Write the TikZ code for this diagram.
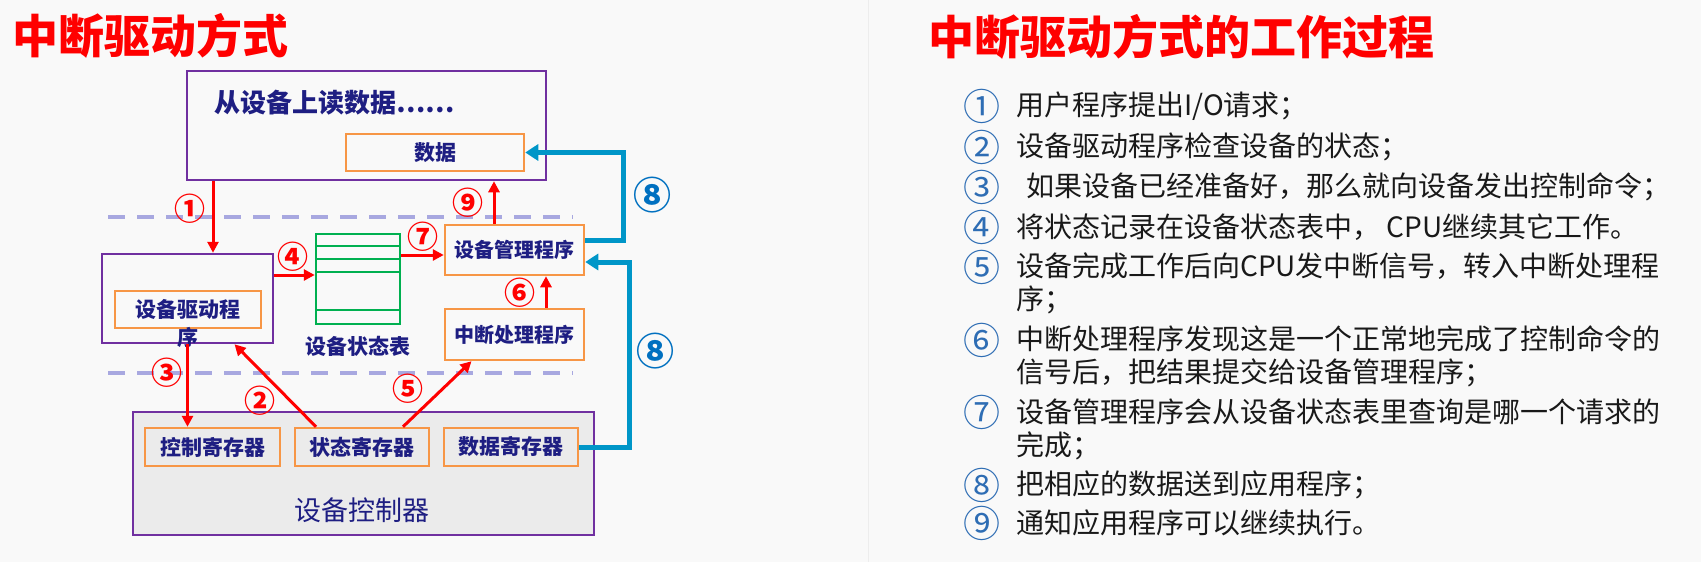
\documentclass[tikz,border=0pt]{standalone}
\usepackage{fontspec}
\setmainfont{Noto Sans CJK SC}
\usepackage{tikz}
\usetikzlibrary{positioning}
\usetikzlibrary{arrows.meta, calc}
\definecolor{boxpurple}{RGB}{112,48,160}
\definecolor{boxorange}{RGB}{247,150,70}
\definecolor{tablegreen}{RGB}{0,176,80}
\definecolor{navy}{RGB}{30,30,130}
\definecolor{flowred}{RGB}{255,0,0}
\definecolor{flowblue}{RGB}{0,150,200}
\definecolor{labelblue}{RGB}{0,112,192}
\definecolor{dashblue}{RGB}{168,168,224}
\definecolor{numblue}{RGB}{46,109,180}
\definecolor{pagebg}{RGB}{249,249,249}
\definecolor{ctlgray}{RGB}{235,235,235}
\tikzstyle{redarrow} = [line width=3pt, draw=flowred, -{Triangle[length=11pt,width=11pt]}]
\tikzstyle{bluearrow} = [line width=5pt, draw=flowblue, -{Triangle[length=13pt,width=16pt]}]

\begin{document}
\begin{tikzpicture}[
    x = 1pt, y = -1pt,
    every node/.style = {inner sep = 0pt},
    outerbox/.style = {draw = boxpurple, line width = 2.5pt},
    innerbox/.style = {draw = boxorange, line width = 2.5pt, text = navy, font = \fontsize{21}{24}\selectfont\bfseries},
    boxtext/.style = {text = navy, font = \fontsize{21}{24}\selectfont\bfseries},
    redno/.style = {text = flowred, font = \fontsize{31}{34}\selectfont\bfseries},
    blueno/.style = {text = labelblue, font = \fontsize{38}{40}\selectfont\bfseries},
    listno/.style = {text = numblue, font = \fontsize{37}{40}\selectfont},
    listtext/.style = {anchor = west, align = left, text = black!90, font = \fontsize{28}{33}\selectfont},
    headline/.style = {anchor = west, text = flowred, font = \fontsize{46}{50}\selectfont\bfseries}
  ]
  \fill[pagebg] (0,0) rectangle (1701,562);
  \useasboundingbox (0,0) rectangle (1701,562);
  \draw[black!7, line width = 1pt] (868,0) -- (868,562);

  % Left panel
  \node[headline] (Title) at (12,36) {中断驱动方式};
  \draw[dashblue, line width = 4pt, dash pattern = on 17pt off 12pt] (108,217) -- (573,217);
  \draw[dashblue, line width = 4pt, dash pattern = on 17pt off 12pt] (108,373) -- (573,373);

  \node[outerbox, minimum width = 359pt, minimum height = 109pt] (App) at (366.5,125.5) {};
  \node[anchor = west, text = navy, font = \fontsize{26}{28}\selectfont\bfseries] (AppText) at (214,103) {从设备上读数据……};
  \node[innerbox, minimum width = 178pt, minimum height = 37pt] (Data) at (435,152.5) {数据};

  \node[innerbox, minimum width = 139pt, minimum height = 50pt, font = \fontsize{20}{24}\selectfont\bfseries] (DevMgr) at (514.5,250) {设备管理程序};
  \node[innerbox, minimum width = 139pt, minimum height = 51pt, font = \fontsize{20}{24}\selectfont\bfseries] (IntHandler) at (514.5,334.5) {中断处理程序};

  \node[draw = tablegreen, line width = 2.5pt, minimum width = 84pt, minimum height = 90pt] (StatTable) at (358,279) {};
  \draw[tablegreen, line width = 2.5pt] ([yshift=-13pt]StatTable.north west) -- ([yshift=-13pt]StatTable.north east);
  \draw[tablegreen, line width = 2.5pt] ([yshift=-26pt]StatTable.north west) -- ([yshift=-26pt]StatTable.north east);
  \draw[tablegreen, line width = 2.5pt] ([yshift=-39pt]StatTable.north west) -- ([yshift=-39pt]StatTable.north east);
  \draw[tablegreen, line width = 2.5pt] ([yshift=-77pt]StatTable.north west) -- ([yshift=-77pt]StatTable.north east);
  \node[boxtext, below = 11pt of StatTable] (StatName) {设备状态表};

  \node[outerbox, minimum width = 171pt, minimum height = 89pt] (Driver) at (187.5,298.5) {};
  \node[innerbox, minimum width = 146pt, minimum height = 37pt] (DriverName) at (188,309.5) {设备驱动程};
  \node[boxtext] (DriverTail) at (188,337) {序};

  \node[outerbox, fill = ctlgray, minimum width = 461pt, minimum height = 123pt] (Ctrl) at (363.5,473.5) {};
  \node[text = navy, font = \fontsize{27}{30}\selectfont] (CtrlName) at (362,510) {设备控制器};
  \node[innerbox, minimum width = 135pt, minimum height = 38pt] (CtrlReg) at (212.5,447) {控制寄存器};
  \node[innerbox, minimum width = 134pt, minimum height = 38pt] (StatReg) at (362,447) {状态寄存器};
  \node[innerbox, minimum width = 134pt, minimum height = 38pt] (DataReg) at (511,447) {数据寄存器};

  % Arrows
  \coordinate (P1) at ([xshift=25.5pt]Driver.north);
  \draw[redarrow] (P1 |- App.south) -- (P1);
  \draw[redarrow] ([xshift=-46pt]StatReg.north) -- ([xshift=47pt]Driver.south);
  \draw[redarrow] (Driver.south) -- (Driver.south |- CtrlReg.north);
  \draw[redarrow] ([yshift=4pt]StatTable.west -| Driver.east) -- ([yshift=4pt]StatTable.west);
  \draw[redarrow] ([xshift=41pt]StatReg.north) -- ([xshift=-43pt]IntHandler.south);
  \coordinate (P6) at ([xshift=31.5pt]IntHandler.north);
  \draw[redarrow] (P6) -- (P6 |- DevMgr.south);
  \draw[redarrow] ([yshift=-5pt]DevMgr.west -| StatTable.east) -- ([yshift=-5pt]DevMgr.west);
  \coordinate (P9) at ([xshift=-20.5pt]DevMgr.north);
  \draw[redarrow] (P9) -- (P9 |- App.south);
  \draw[bluearrow] ([yshift=10pt]DevMgr.east) -- ++(38pt,0) |- (Data.east);
  \draw[bluearrow] (DataReg.east) -- ++(50pt,0) |- ([yshift=-12pt]DevMgr.east);

  % Labels
  \node[redno] (L1) at (190,209) {①};
  \node[redno] (L2) at (260,401) {②};
  \node[redno] (L3) at (167,373) {③};
  \node[redno] (L4) at (293,257) {④};
  \node[redno] (L5) at (408,389) {⑤};
  \node[redno] (L6) at (520,293) {⑥};
  \node[redno] (L7) at (423,237) {⑦};
  \node[blueno] (L8a) at (652,195) {⑧};
  \node[blueno] (L8b) at (655,351) {⑧};
  \node[redno] (L9) at (468,203) {⑨};

  % Right panel
  \node[headline] (Title2) at (928,37) {中断驱动方式的工作过程};
  \node[listno] (N1) at (982,106) {①};
  \node[listtext] (T1) at (1016,106) {用户程序提出I/O请求；};
  \node[listno] (N2) at (982,147) {②};
  \node[listtext] (T2) at (1016,147) {设备驱动程序检查设备的状态；};
  \node[listno] (N3) at (982,187) {③};
  \node[listtext] (T3) at (1026,187) {如果设备已经准备好，那么就向设备发出控制命令；};
  \node[listno] (N4) at (982,227) {④};
  \node[listtext] (T4) at (1016,227) {将状态记录在设备状态表中， CPU继续其它工作。};
  \node[listno] (N5) at (982,267) {⑤};
  \node[listtext] (T5) at (1016,283.5) {设备完成工作后向CPU发中断信号，转入中断处理程\\序；};
  \node[listno] (N6) at (982,340) {⑥};
  \node[listtext] (T6) at (1016,356.5) {中断处理程序发现这是一个正常地完成了控制命令的\\信号后，把结果提交给设备管理程序；};
  \node[listno] (N7) at (982,412) {⑦};
  \node[listtext] (T7) at (1016,429.5) {设备管理程序会从设备状态表里查询是哪一个请求的\\完成；};
  \node[listno] (N8) at (982,485) {⑧};
  \node[listtext] (T8) at (1016,485) {把相应的数据送到应用程序；};
  \node[listno] (N9) at (982,523) {⑨};
  \node[listtext] (T9) at (1016,523) {通知应用程序可以继续执行。};
\end{tikzpicture}
\end{document}
